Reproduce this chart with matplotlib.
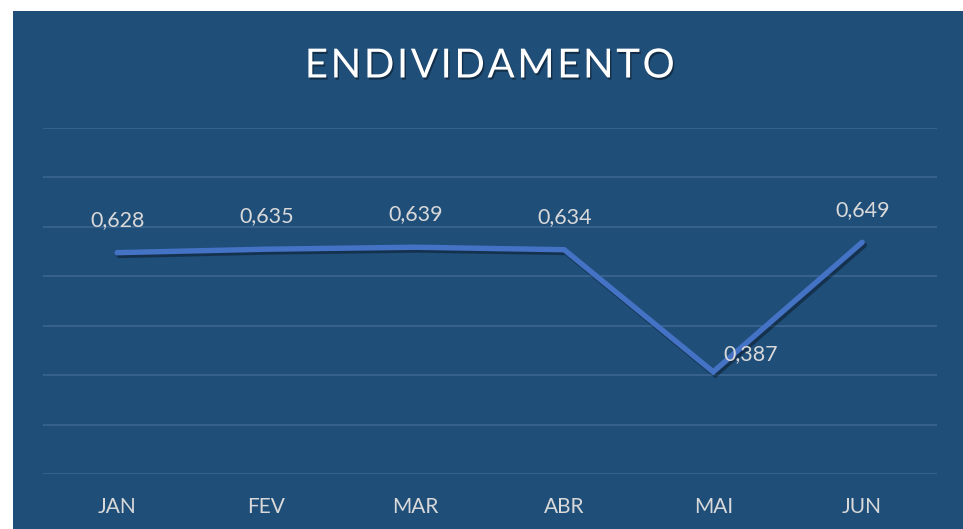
import matplotlib
matplotlib.use("Agg")
import matplotlib.pyplot as plt
import matplotlib.patheffects as pe
import numpy as np

# chart data
months = ["JAN", "FEV", "MAR", "ABR", "MAI", "JUN"]
endividamento = [0.628, 0.635, 0.639, 0.634, 0.387, 0.649]
labels = ["0,628", "0,635", "0,639", "0,634", "0,387", "0,649"]

bg = "#1F4E79"
line_col = "#4472C4"
grid_col = "#3A6590"
text_col = "#D9D9D9"

plt.rcParams["font.family"] = ["Lato", "DejaVu Sans"]

W, H = 963, 529
fig = plt.figure(figsize=(W / 100, H / 100), dpi=100)
fig.patch.set_facecolor("white")

# chart area (white margin on left and top)
fig.patches.append(plt.Rectangle((13 / W, 0), 1 - 13 / W, 1 - 11 / H,
                                 transform=fig.transFigure, facecolor=bg,
                                 edgecolor="none", zorder=-10))

left, right = 42.7 / W, 936.7 / W
bottom, top = 1 - 474.3 / H, 1 - 128 / H
ax = fig.add_axes([left, bottom, right - left, top - bottom])
ax.set_facecolor("none")

x = np.arange(len(months))
ax.plot(x, endividamento, color=line_col, lw=3.9, solid_capstyle="round",
        solid_joinstyle="miter", zorder=3,
        path_effects=[pe.SimpleLineShadow(offset=(1.5, -2), shadow_color="black", alpha=0.35),
                      pe.Normal()])

ax.set_xlim(-0.5, len(months) - 0.5)
ax.set_ylim(0.18, 0.88)
ax.set_yticks(np.arange(0.18, 0.881, 0.1))
ax.yaxis.grid(True, color=grid_col, lw=1.2)
ax.set_axisbelow(True)
ax.tick_params(axis="y", left=False, labelleft=False)
ax.set_xticks(x)
ax.set_xticklabels(months, fontsize=15, color=text_col)
ax.tick_params(axis="x", length=0, pad=16)
for s in ax.spines.values():
    s.set_visible(False)

for i, (v, lab) in enumerate(zip(endividamento, labels)):
    if i == 4:
        off = (27, 13)
    else:
        off = (0, 23.5)
    ax.annotate(lab, (i, v), xytext=off, textcoords="offset points",
                ha="center", va="center", fontsize=15.5, color=text_col, zorder=4)

title = fig.text(489 / W, 1 - 66 / H, "\u200a".join("ENDIVIDAMENTO"),
                 ha="center", va="center", fontsize=29, color="white")
title.set_path_effects([pe.withSimplePatchShadow(offset=(1, -1.5), shadow_rgbFace="black", alpha=0.4)])

fig.savefig("out.png", dpi=100, facecolor=fig.get_facecolor())
